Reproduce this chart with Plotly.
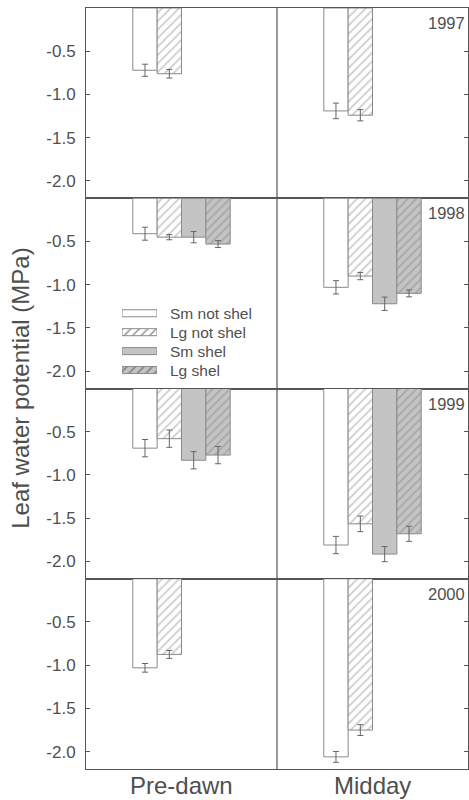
import plotly.graph_objects as go
from plotly.subplots import make_subplots

# ---- data ----
years = ["1997", "1998", "1999", "2000"]
periods = ["Pre-dawn", "Midday"]
series_names = ["Sm not shel", "Lg not shel", "Sm shel", "Lg shel"]

sm_not_shel = [[-0.72, -1.19], [-0.41, -1.03], [-0.69, -1.81], [-1.03, -2.06]]
sm_not_shel_err = [[0.07, 0.09], [0.075, 0.077], [0.10, 0.10], [0.05, 0.063]]
lg_not_shel = [[-0.76, -1.24], [-0.45, -0.90], [-0.58, -1.565], [-0.875, -1.75]]
lg_not_shel_err = [[0.05, 0.065], [0.03, 0.042], [0.10, 0.09], [0.046, 0.063]]
sm_shel = [[None, None], [-0.45, -1.22], [-0.83, -1.915], [None, None]]
sm_shel_err = [[0, 0], [0.065, 0.077], [0.10, 0.087], [0, 0]]
lg_shel = [[None, None], [-0.53, -1.10], [-0.77, -1.68], [None, None]]
lg_shel_err = [[0, 0], [0.04, 0.04], [0.10, 0.087], [0, 0]]

y_tickvals = [-0.5, -1.0, -1.5, -2.0]
y_ticktext = ["-0.5", "-1.0", "-1.5", "-2.0"]
y_range = [-2.2, 0]

# ---- styles ----
TXT = "#4f4f4f"
LINE = "#555555"
EDGE = "#8a8a8a"
ERR = "#666666"
FONT = "Liberation Sans, Arial, sans-serif"
HATCH_SIZE = 6
HATCH_SOLID = 0.3

fills = ["white", "white", "#c4c4c4", "#c4c4c4"]
hatch_shapes = ["", "/", "", "/"]
hatch_fg = ["#999999", "#999999", "#8a8a8a", "#8a8a8a"]

values = [sm_not_shel, lg_not_shel, sm_shel, lg_shel]
errors = [sm_not_shel_err, lg_not_shel_err, sm_shel_err, lg_shel_err]

fig = make_subplots(rows=4, cols=1, shared_xaxes=True, vertical_spacing=0)

for r in range(4):
    for s in range(4):
        marker = dict(color=fills[s], line=dict(color=EDGE, width=1))
        if hatch_shapes[s]:
            marker["pattern"] = dict(shape=hatch_shapes[s], fgcolor=hatch_fg[s], bgcolor=fills[s],
                                     size=HATCH_SIZE, solidity=HATCH_SOLID)
        fig.add_trace(
            go.Bar(
                x=periods,
                y=values[s][r],
                name=series_names[s],
                marker=marker,
                error_y=dict(type="data", array=errors[s][r], color=ERR, thickness=1, width=3),
                showlegend=False,
            ),
            row=r + 1, col=1,
        )
    fig.update_yaxes(
        range=y_range, tickvals=y_tickvals, ticktext=y_ticktext,
        ticks="inside", ticklen=4, tickcolor=LINE, tickwidth=1,
        showline=True, linecolor=LINE, linewidth=1, mirror="ticks",
        showgrid=False, zeroline=False,
        tickfont=dict(size=17, color=TXT, family=FONT),
        ticklabelstandoff=6,
        row=r + 1, col=1,
    )
    fig.update_xaxes(
        range=[-0.5, 1.5], showline=True, linecolor=LINE, linewidth=1, mirror=True,
        ticks="", showgrid=False, zeroline=False, showticklabels=False,
        row=r + 1, col=1,
    )
    yd = "y domain" if r == 0 else f"y{r + 1} domain"
    xd = "x domain" if r == 0 else f"x{r + 1} domain"
    fig.add_annotation(
        x=1, y=1, xref=xd, yref=yd, text=years[r], showarrow=False,
        xanchor="right", yanchor="top", xshift=-1, yshift=-4,
        font=dict(size=16.5, color=TXT, family=FONT),
    )

# category labels under the bottom panel
for p in periods:
    fig.add_annotation(
        x=p, y=0, xref="x4", yref="paper", text=p, showarrow=False,
        xanchor="center", yanchor="middle", yshift=-16,
        font=dict(size=24, color=TXT, family=FONT),
    )

# vertical divider between Pre-dawn and Midday
fig.add_shape(type="line", xref="paper", yref="paper", x0=0.5, x1=0.5, y0=0, y1=1,
              line=dict(color=LINE, width=1.2))

fig.add_annotation(
    x=-0.172, y=0.5, xref="paper", yref="paper", text="Leaf water potential (MPa)",
    textangle=-90, showarrow=False, xanchor="center", yanchor="middle",
    font=dict(size=24, color=TXT, family=FONT),
)

# ---- legend drawn as a small hidden-axis bar chart (wide swatches) ----
legend_idx = [0, 1, 2, 3]
fig.add_trace(go.Bar(
    x=[1, 1, 1, 1], y=legend_idx, base=0, orientation="h", width=0.37,
    marker=dict(color=fills, line=dict(color=EDGE, width=1),
                pattern=dict(shape=hatch_shapes, fgcolor=hatch_fg, bgcolor=fills,
                             size=HATCH_SIZE, solidity=HATCH_SOLID)),
    xaxis="x5", yaxis="y5", showlegend=False, hoverinfo="skip",
))
for i, name in zip(legend_idx, series_names):
    fig.add_annotation(
        x=0.2147, y=i, xref="paper", yref="y5", text=name, showarrow=False,
        xanchor="left", yanchor="middle",
        font=dict(size=15.5, color=TXT, family=FONT),
    )

fig.update_layout(
    xaxis5=dict(domain=[0.0942, 0.1859], range=[0, 1], anchor="y5", visible=False, fixedrange=True),
    yaxis5=dict(domain=[0.5118, 0.6113], range=[3.5, -0.5], anchor="x5", visible=False, fixedrange=True),
)

fig.update_layout(
    width=469, height=800,
    margin=dict(l=86, r=1, t=8, b=31, autoexpand=False),
    plot_bgcolor="rgba(0,0,0,0)", paper_bgcolor="white",
    barmode="group", bargap=0.49, bargroupgap=0,
    font=dict(family=FONT, color=TXT),
    showlegend=False,
)

fig.write_html("out.html")
